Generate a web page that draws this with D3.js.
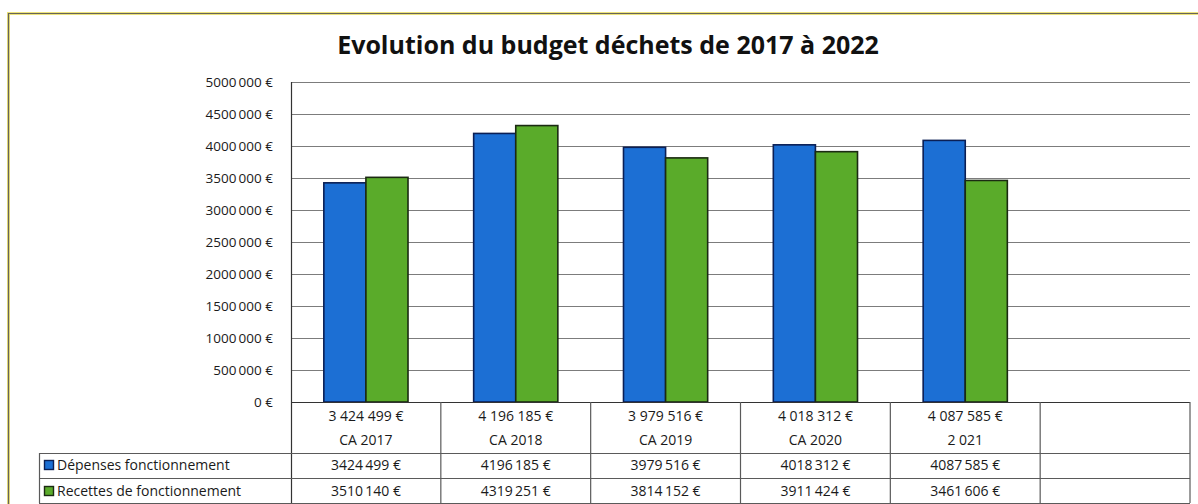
<!DOCTYPE html>
<html lang="fr">
<head>
<meta charset="utf-8">
<script src="https://cdn.jsdelivr.net/npm/d3@7"></script>
<style>
  html, body { margin: 0; padding: 0; background: #fff; }
  svg { display: block; font-family: "Open Sans", "Noto Sans", sans-serif; }
</style>
</head>
<body>
<svg id="chart" width="1198" height="504"></svg>
<script>
// Budget déchets : comptes administratifs 2017-2021
const categories = ["CA 2017", "CA 2018", "CA 2019", "CA 2020", "2 021"];
const seriesNames = ["Dépenses fonctionnement", "Recettes de fonctionnement"];
const depenses = [3424499, 4196185, 3979516, 4018312, 4087585];
const recettes = [3510140, 4319251, 3814152, 3911424, 3461606];
const yTicks = [0, 500000, 1000000, 1500000, 2000000, 2500000, 3000000, 3500000, 4000000, 4500000, 5000000];
const titleText = "Evolution du budget déchets de 2017 à 2022";

const seriesValues = [depenses, recettes];
const colors = ["#1c6fd4", "#5aab2a"];
const strokes = ["#0b1f55", "#1b2a12"];
const FONT = "'Open Sans', 'Noto Sans', sans-serif";

// "3424 499 €" : only the last group of three digits is separated
const fmtShort = v => {
  const k = Math.floor(v / 1000), r = v % 1000;
  return k > 0 ? `${k}\u2009${String(r).padStart(3, "0")} €` : `${r} €`;
};
// "3 424 499 €" : full grouping
const fmtFull = v => d3.format(",")(v).replace(/,/g, " ") + " €";

const svg = d3.select("#chart");
const W = 1198, H = 504;
const plotLeft = 291, plotRight = 1190, plotTop = 82, plotBottom = 402;

svg.append("rect").attr("width", W).attr("height", H).attr("fill", "#fff");

// outer frame
svg.append("path")
  .attr("d", `M8.5,${H} V13.5 H${W}`)
  .attr("fill", "none").attr("stroke", "#ece27a").attr("stroke-width", 3);
svg.append("path")
  .attr("d", `M8.5,${H} V13.5 H${W}`)
  .attr("fill", "none").attr("stroke", "#66645a").attr("stroke-width", 1.2);

// title
svg.append("text")
  .attr("x", 608).attr("y", 54)
  .attr("text-anchor", "middle")
  .attr("font-weight", "bold").attr("font-size", 25)
  .attr("font-family", FONT)
  .attr("fill", "#111")
  .text(titleText);

const slots = [...categories, "__blank"];
const x = d3.scaleBand().domain(slots).range([plotLeft, plotRight]);
const xs = d3.scaleBand().domain(d3.range(seriesNames.length))
  .range([0, x.bandwidth()]).paddingOuter(0.78);
const y = d3.scaleLinear().domain([0, 5000000]).range([plotBottom, plotTop]);

// gridlines
svg.append("g").selectAll("line").data(yTicks.filter(t => t > 0)).join("line")
  .attr("x1", plotLeft).attr("x2", plotRight)
  .attr("y1", d => Math.round(y(d)) + 0.5).attr("y2", d => Math.round(y(d)) + 0.5)
  .attr("stroke", "#7c7c7c").attr("stroke-width", 1);

// y axis
const yAxis = d3.axisLeft(y).tickValues(yTicks).tickFormat(fmtShort).tickSize(0).tickPadding(18);
const gy = svg.append("g").attr("transform", `translate(${plotLeft},0)`).call(yAxis);
gy.select(".domain").remove();
gy.attr("font-family", FONT).attr("font-size", 13.5);
gy.selectAll("text").attr("fill", "#1a1a1a");

// bars
const groups = svg.append("g").selectAll("g").data(categories).join("g")
  .attr("transform", d => `translate(${x(d)},0)`);
groups.selectAll("rect")
  .data((c, i) => seriesValues.map((vals, s) => ({ s, v: vals[i] })))
  .join("rect")
  .attr("x", d => xs(d.s))
  .attr("width", xs.bandwidth())
  .attr("y", d => y(d.v))
  .attr("height", d => y(0) - y(d.v))
  .attr("fill", d => colors[d.s])
  .attr("stroke", d => strokes[d.s])
  .attr("stroke-width", 1.6);

// data table under the plot
const rowTop = 453, rowMid = 478, rowBot = 503, tableLeft = 39;
const lineColor = "#5a5a5a";
const tg = svg.append("g");
// axis line and left plot edge
tg.append("line").attr("x1", plotLeft).attr("x2", plotRight).attr("y1", plotBottom + 0.5).attr("y2", plotBottom + 0.5)
  .attr("stroke", "#333").attr("stroke-width", 1.2);
tg.append("line").attr("x1", plotLeft + 0.5).attr("x2", plotLeft + 0.5).attr("y1", plotTop).attr("y2", rowBot)
  .attr("stroke", "#333").attr("stroke-width", 1.2);
// column separators
tg.selectAll("line.col").data(slots).join("line").attr("class", "col")
  .attr("x1", d => x(d) + x.bandwidth()).attr("x2", d => x(d) + x.bandwidth())
  .attr("y1", plotBottom).attr("y2", rowBot)
  .attr("stroke", lineColor).attr("stroke-width", 1.2);
// horizontal rules
[rowTop, rowMid, rowBot].forEach(yy => {
  tg.append("line").attr("x1", tableLeft).attr("x2", plotRight).attr("y1", yy + 0.5).attr("y2", yy + 0.5)
    .attr("stroke", lineColor).attr("stroke-width", 1);
});
tg.append("line").attr("x1", tableLeft + 0.5).attr("x2", tableLeft + 0.5).attr("y1", rowTop).attr("y2", rowBot)
  .attr("stroke", lineColor).attr("stroke-width", 1.2);

// category labels (two lines)
const lab = svg.append("g").attr("font-size", 14).attr("font-family", FONT)
  .attr("fill", "#1a1a1a").attr("text-anchor", "middle");
categories.forEach((c, i) => {
  const cx = x(c) + x.bandwidth() / 2;
  lab.append("text").attr("x", cx).attr("y", 421).text(fmtFull(depenses[i]));
  lab.append("text").attr("x", cx).attr("y", 445).text(c);
});

// table values
seriesValues.forEach((vals, s) => {
  const cy = s === 0 ? 470 : 496;
  categories.forEach((c, i) => {
    lab.append("text").attr("x", x(c) + x.bandwidth() / 2).attr("y", cy).text(fmtShort(vals[i]));
  });
  // legend key + series name
  svg.append("rect").attr("x", 44.5).attr("y", cy - 9.5).attr("width", 9).attr("height", 9)
    .attr("fill", colors[s]).attr("stroke", strokes[s]).attr("stroke-width", 1.4);
  svg.append("text").attr("x", 57).attr("y", cy).attr("font-size", 14)
    .attr("font-family", FONT).attr("fill", "#1a1a1a")
    .text(seriesNames[s]);
});
</script>
</body>
</html>
